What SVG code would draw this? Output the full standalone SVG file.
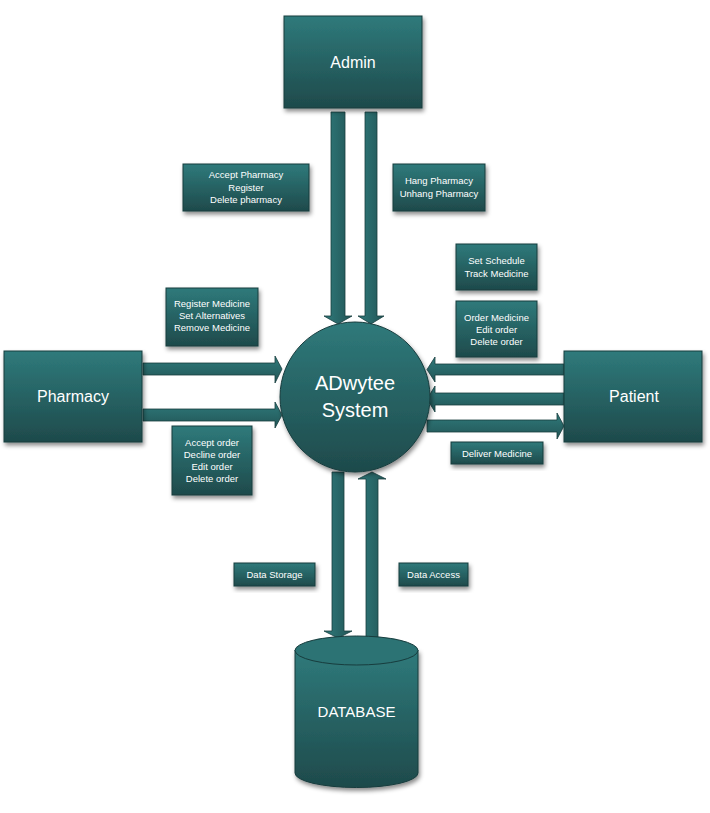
<svg xmlns="http://www.w3.org/2000/svg" width="710" height="813" viewBox="0 0 710 813">
<defs>
<linearGradient id="g" x1="0" y1="0" x2="0" y2="1">
<stop offset="0" stop-color="#2f7a7b"/>
<stop offset="1" stop-color="#1e4a4b"/>
</linearGradient>
<linearGradient id="gh" x1="0" y1="0" x2="0" y2="1">
<stop offset="0" stop-color="#2f7a7b"/>
<stop offset="1" stop-color="#225556"/>
</linearGradient>
<linearGradient id="gv" x1="0" y1="0" x2="1" y2="0">
<stop offset="0" stop-color="#2f7a7b"/>
<stop offset="1" stop-color="#225556"/>
</linearGradient>
<filter id="sh" x="-20%" y="-20%" width="140%" height="150%">
<feDropShadow dx="1.5" dy="3" stdDeviation="2" flood-color="#000" flood-opacity="0.45"/>
</filter>
</defs>
<style>
.box{fill:url(#g);stroke:#173c3d;stroke-width:1;filter:url(#sh)}
.ah{fill:url(#gh);stroke:#173c3d;stroke-width:0.8}
.av{fill:url(#gv);stroke:#173c3d;stroke-width:0.8}
.big{font-family:"Liberation Sans",Arial,sans-serif;font-size:16px;fill:#fff;text-anchor:middle}
.sm{font-family:"Liberation Sans",Arial,sans-serif;font-size:9.5px;fill:#fff;text-anchor:middle}
</style>
<rect width="710" height="813" fill="#fff"/>
<g id="connectors">
<polygon class="av" points="331,112 345,112 345,316 352,316 338,324 324,316 331,316"/>
<polygon class="av" points="365,112 377,112 377,316 384,316 371,324 358,316 365,316"/>
<polygon class="ah" points="143,363 275,363 275,356 282,369 275,383 275,375 143,375"/>
<polygon class="ah" points="143,409 275,409 275,402 282,415 275,428 275,421 143,421"/>
<polygon class="ah" points="564,364 435,364 435,357 427,369.5 435,382 435,375 564,375"/>
<polygon class="ah" points="564,393 435,393 435,386 427,399 435,412 435,405 564,405"/>
<polygon class="ah" points="427,420 557,420 557,413 564,426 557,439 557,432 427,432"/>
<polygon class="av" points="332,472 344,472 344,631 352,631 338,638 324,631 332,631"/>
<polygon class="av" points="366,637 378,637 378,479 386,479 372,472 358,479 366,479"/>
</g>
<g id="admin">
<rect class="box" x="284" y="16" width="138" height="92"/>
<text class="big" x="353" y="68">Admin</text>
</g>
<g id="pharmacy">
<rect class="box" x="4" y="351" width="138" height="91"/>
<text class="big" x="73" y="402">Pharmacy</text>
</g>
<g id="patient">
<rect class="box" x="564" y="351" width="138" height="91"/>
<text class="big" x="634" y="402">Patient</text>
</g>
<g id="system">
<circle cx="355" cy="397" r="75" fill="url(#g)" stroke="#173c3d" stroke-width="1" filter="url(#sh)"/>
<text class="big" style="font-size:20px" x="355" y="390">ADwytee</text>
<text class="big" style="font-size:20px" x="355" y="417">System</text>
</g>
<g id="database">
<path d="M295,650 L295,773 A61.5,14.5 0 0 0 418,773 L418,650 Z" fill="url(#g)" stroke="#173c3d" stroke-width="1" filter="url(#sh)"/>
<ellipse cx="356.5" cy="650.5" rx="61.5" ry="14.5" fill="#2c7374" stroke="#173c3d" stroke-width="1"/>
<text class="big" style="font-size:15px" x="356.5" y="717">DATABASE</text>
</g>
<g id="lbl-admin-left">
<rect class="box" x="183" y="164" width="126" height="47"/>
<text class="sm" x="246" y="178">Accept Pharmacy</text>
<text class="sm" x="246" y="190.5">Register</text>
<text class="sm" x="246" y="203">Delete pharmacy</text>
</g>
<g id="lbl-admin-right">
<rect class="box" x="393" y="164" width="92" height="47"/>
<text class="sm" x="439" y="184">Hang Pharmacy</text>
<text class="sm" x="439" y="196.5">Unhang Pharmacy</text>
</g>
<g id="lbl-schedule">
<rect class="box" x="456" y="244" width="81" height="46"/>
<text class="sm" x="496.5" y="264">Set Schedule</text>
<text class="sm" x="496.5" y="276.5">Track Medicine</text>
</g>
<g id="lbl-order">
<rect class="box" x="456" y="301" width="81" height="56"/>
<text class="sm" x="496.5" y="321">Order Medicine</text>
<text class="sm" x="496.5" y="333">Edit order</text>
<text class="sm" x="496.5" y="345">Delete order</text>
</g>
<g id="lbl-register">
<rect class="box" x="166" y="288" width="92" height="58"/>
<text class="sm" x="212" y="307">Register Medicine</text>
<text class="sm" x="212" y="319">Set Alternatives</text>
<text class="sm" x="212" y="331">Remove Medicine</text>
</g>
<g id="lbl-accept-order">
<rect class="box" x="172" y="426" width="80" height="69"/>
<text class="sm" x="212" y="446">Accept order</text>
<text class="sm" x="212" y="458">Decline order</text>
<text class="sm" x="212" y="470">Edit order</text>
<text class="sm" x="212" y="482">Delete order</text>
</g>
<g id="lbl-deliver">
<rect class="box" x="451" y="442" width="92" height="22"/>
<text class="sm" x="497" y="456.5">Deliver Medicine</text>
</g>
<g id="lbl-storage">
<rect class="box" x="234" y="563" width="81" height="23"/>
<text class="sm" x="274.5" y="578">Data Storage</text>
</g>
<g id="lbl-access">
<rect class="box" x="399" y="563" width="69" height="23"/>
<text class="sm" x="433.5" y="578">Data Access</text>
</g>
</svg>
